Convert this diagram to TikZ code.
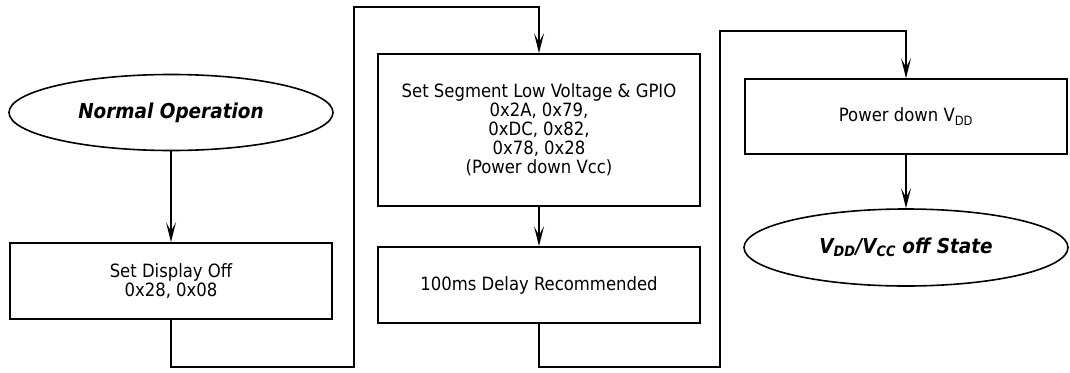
\documentclass[tikz,border=0pt]{standalone}
\usepackage{fontspec}
\setmainfont{DejaVu Sans Condensed}
\usetikzlibrary{shapes.geometric,arrows.meta}
\begin{document}
\begin{tikzpicture}[x=1pt, y=-1pt, line width=1.6pt, line join=miter,
	font=\fontsize{18.3}{19}\selectfont,
	>={Stealth[length=20pt, width=10pt, inset=9pt]},
	stepbox/.style={draw, rectangle, minimum width=322, minimum height=76, inner sep=0pt, align=center},
	endcap/.style={draw, ellipse, minimum width=324, minimum height=76, inner sep=0pt, font=\fontsize{20.5}{22}\selectfont\bfseries\itshape}]
	\useasboundingbox (0,0) rectangle (1070,372);
	% start and end states
	\node[endcap] (normal) at (171,112.5) {Normal Operation};
	\node[endcap, minimum height=77] (offstate) at (906,247.5) {V\textsubscript{DD}/V\textsubscript{CC} off State};
	% steps
	\node[stepbox] (dispoff) at (171,281) {Set Display Off\\0x28, 0x08};
	\node[stepbox, minimum height=152] (segment) at (539,130) {Set Segment Low Voltage \& GPIO\\0x2A, 0x79,\\0xDC, 0x82,\\0x78, 0x28\\(Power down Vcc)};
	\node[stepbox] (delay) at (539,285) {100ms Delay Recommended};
	\node[stepbox, minimum height=75] (vdddown) at (906,116.5) {Power down V\textsubscript{DD}};
	% bends of the long connectors
	\coordinate (b1) at (354,367);
	\coordinate (t1) at (354,7);
	\coordinate (b2) at (720,367);
	\coordinate (t2) at (720,31);
	% connectors
	\draw[->] (normal) -- (dispoff);
	\draw[->] (dispoff.south) |- (b1) -- (t1) -| (segment.north);
	\draw[->] (segment) -- (delay);
	\draw[->] (delay.south) |- (b2) -- (t2) -| (vdddown.north);
	\draw[->] (vdddown) -- (offstate);
\end{tikzpicture}
\end{document}
